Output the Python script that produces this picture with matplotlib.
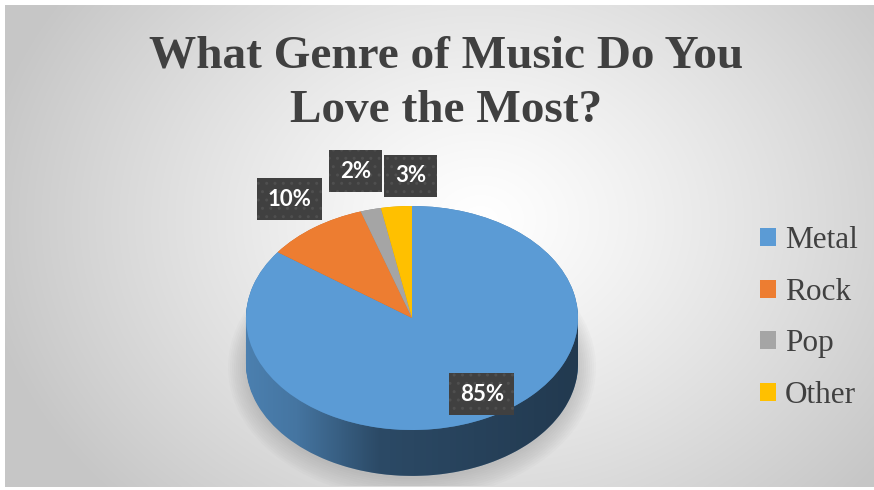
import numpy as np
import matplotlib.pyplot as plt
import matplotlib.colors as mcolors
from matplotlib.patches import Ellipse, Polygon
from matplotlib.font_manager import FontProperties

# data
genres = ['Metal', 'Rock', 'Pop', 'Other']
shares = [85, 10, 2, 3]
colors = ['#5b9bd5', '#ed7d31', '#a5a5a5', '#ffc000']
# label box centres in pie units (x = horizontal radius, y = vertical radius)
label_xy = [(0.42, -0.68), (-0.74, 1.06), (-0.34, 1.31), (-0.01, 1.27)]

W, H = 874, 490
fig = plt.figure(figsize=(W / 100, H / 100), dpi=100)
fig.patch.set_facecolor('white')

# radial grey background
bg = fig.add_axes([5 / W, 3 / H, (W - 5) / W, (H - 8) / H])
yy, xx = np.mgrid[5:487, 5:874]
r = np.sqrt(((xx - 480) / 500.0) ** 2 + ((yy - 220) / 400.0) ** 2)
v = 1 - 0.22 * np.clip(r, 0, 1) ** 1.2
bg.imshow(np.dstack([v, v, v]), aspect='auto', interpolation='bilinear')
bg.axis('off')

# pie axes: 1 unit = 166 px horizontally, 112 px vertically
a, b = 166, 112
cx, cy = 412, 318
ax = fig.add_axes([(cx - 1.5 * a) / W, (H - cy - 1.5 * b) / H, 3 * a / W, 3 * b / H])
depth = 0.41

# soft shadow under the pie
for k in range(10):
    ax.add_patch(Ellipse((0.0, -depth - 0.03), 2 * (1.0 + 0.012 * k), 2 * (1.0 + 0.02 * k),
                         facecolor='#7a7a7a', edgecolor='none', alpha=0.035, zorder=0))

# side of the pie: stacked layers in darker colours
side_colors = [tuple(np.array(mcolors.to_rgb(c)) * 0.82) for c in colors]
for off in np.linspace(depth, 0.0, 40):
    ax.pie(shares, colors=side_colors, startangle=90, counterclock=False,
           center=(0, -off), wedgeprops=dict(linewidth=0))

# darken the side towards the right
t = np.linspace(np.pi, 2 * np.pi, 200)
side_pts = np.concatenate([np.column_stack([np.cos(t), np.sin(t) - depth]),
                           np.column_stack([np.cos(t[::-1]), np.sin(t[::-1])])])
side_poly = Polygon(side_pts, closed=True, transform=ax.transData)
gx = np.linspace(-1, 1, 300)
alpha = np.interp(gx, [-1.0, -0.7, -0.2, 1.0], [0.0, 0.08, 0.42, 0.55])
shade = np.zeros((2, 300, 4))
shade[:, :, 3] = alpha
im = ax.imshow(shade, extent=(-1, 1, -1 - depth, 0), aspect='auto', zorder=1.5)
im.set_clip_path(side_poly)

# top face
wedges, _ = ax.pie(shares, colors=colors, startangle=90, counterclock=False,
                   wedgeprops=dict(linewidth=0))
for w in wedges:
    w.set_zorder(2)

# percentage labels
for (x, y), s in zip(label_xy, shares):
    ax.text(x, y, f'{s}%', ha='center', va='center', color='white',
            fontfamily='Lato', fontweight='bold', fontsize=16, zorder=5,
            bbox=dict(boxstyle='square,pad=0.48', facecolor='#404040',
                      edgecolor='#4f4f4f', linewidth=0, hatch='..'))

ax.set_aspect('auto')
ax.set_xlim(-1.5, 1.5)
ax.set_ylim(-1.5, 1.5)
ax.axis('off')

# title
fig.text(446.5 / W, 1 - 36 / H, 'What Genre of Music Do You\nLove the Most?',
         ha='center', va='top', multialignment='center', fontsize=34,
         fontweight='bold', fontfamily='Liberation Serif', color='#404040',
         linespacing=1.36)

# legend
fig.legend(wedges, genres, loc='center left', bbox_to_anchor=(760 / W, 1 - 318 / H),
           frameon=False, prop=FontProperties(family='Liberation Serif', size=22.5),
           labelcolor='#404040', handlelength=0.5, handleheight=0.5,
           handletextpad=0.3, labelspacing=0.72, borderpad=0, borderaxespad=0)

fig.savefig('out.png', dpi=100)
